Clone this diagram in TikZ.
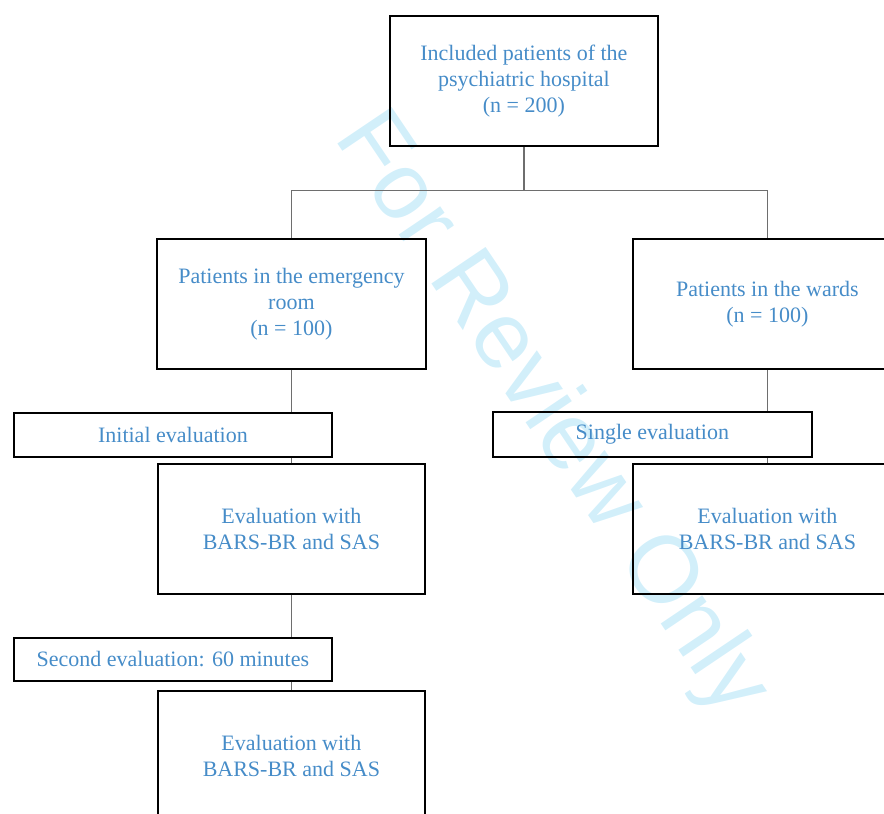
\documentclass[tikz,border=0pt]{standalone}
\usepackage{fontspec}
\setmainfont{Liberation Serif}
\newfontfamily\wmfont{Liberation Sans}
\definecolor{txt}{RGB}{70,140,200}
\definecolor{wm}{RGB}{210,239,250}
\definecolor{lineg}{RGB}{110,110,110}
\begin{document}
\begin{tikzpicture}[x=1pt,y=-1pt,
  box/.style={draw=black, line width=1.8pt, align=center, text=txt,
    font=\fontsize{22}{26}\selectfont, inner sep=0pt, anchor=north west},
  conn/.style={draw=lineg, line width=1.3pt}]
\useasboundingbox (0,0) rectangle (884,814);
\clip (0,0) rectangle (884,814);
% watermark
\node[text=wm, font=\wmfont\fontsize{95}{95}\selectfont, rotate=-56] (wmark) at (550,415) {For Review Only};
% boxes
\node[box, minimum width=268, minimum height=130] (top) at (389,15)
  {Included patients of the\\psychiatric hospital\\(n = 200)};
\node[box, minimum width=269, minimum height=130] (er) at (156,238)
  {Patients in the emergency\\room\\(n = 100)};
\node[box, minimum width=269, minimum height=130] (wards) at (632,238)
  {Patients in the wards\\(n = 100)};
\node[box, minimum width=318, minimum height=44] (init) at (13,412)
  {Initial evaluation};
\node[box, minimum width=267, minimum height=130] (evalA) at (157,463)
  {Evaluation with\\BARS-BR and SAS};
\node[box, minimum width=318, minimum height=43] (second) at (13,637)
  {Second evaluation: 60 minutes};
\node[box, minimum width=267, minimum height=130] (evalB) at (157,690)
  {Evaluation with\\BARS-BR and SAS};
\node[box, minimum width=319, minimum height=45] (single) at (492,411)
  {Single evaluation};
\node[box, minimum width=269, minimum height=130] (evalR) at (632,463)
  {Evaluation with\\BARS-BR and SAS};
% connectors
\path (top.south) ++(0,44) coordinate (bm);
\draw[conn] (top.south) -- (bm);
\draw[conn] (er.north) |- (bm) -| (wards.north);
\draw[conn] (er.south) -- (er.south |- init.north);
\draw[conn] (init.south -| evalA.north) -- (evalA.north);
\draw[conn] (evalA.south) -- (evalA.south |- second.north);
\draw[conn] (second.south -| evalB.north) -- (evalB.north);
\draw[conn] (wards.south) -- (wards.south |- single.north);
\draw[conn] (single.south -| evalR.north) -- (evalR.north);
\end{tikzpicture}
\end{document}
